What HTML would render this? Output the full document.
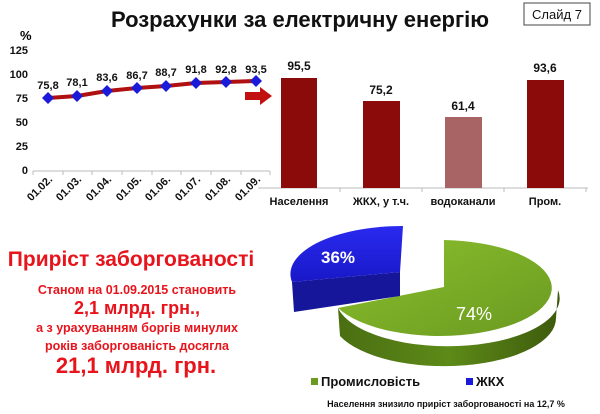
<!DOCTYPE html>
<html><head><meta charset="utf-8"><style>
html,body{margin:0;padding:0;background:#fff;}
svg{display:block;font-family:"Liberation Sans",Arial,sans-serif;}
</style></head><body>
<svg width="600" height="414" viewBox="0 0 600 414">
<defs>
<linearGradient id="gs" x1="0" y1="0" x2="1" y2="0"><stop offset="0" stop-color="#4a6e12"/><stop offset="0.5" stop-color="#5d8a18"/><stop offset="1" stop-color="#3d5a0c"/></linearGradient>
<linearGradient id="gt" x1="0" y1="0" x2="1" y2="1"><stop offset="0" stop-color="#8bbf2e"/><stop offset="1" stop-color="#6a9a20"/></linearGradient>
<linearGradient id="bt" x1="0" y1="0" x2="0" y2="1"><stop offset="0" stop-color="#2a2af0"/><stop offset="1" stop-color="#1818c8"/></linearGradient>
</defs>
<text x="300" y="27" text-anchor="middle" font-size="22" font-weight="bold" fill="#111">Розрахунки за електричну енергію</text>
<rect x="524" y="3" width="66" height="22" fill="#fff" stroke="#444" stroke-width="1"/>
<text x="557" y="19" text-anchor="middle" font-size="13" fill="#111">Слайд 7</text>

<!-- line chart -->
<text x="20" y="40" font-size="13" font-weight="bold">%</text>
<g font-size="11" font-weight="bold" text-anchor="end" fill="#111">
<text x="28" y="54">125</text><text x="28" y="78">100</text><text x="28" y="102">75</text><text x="28" y="126">50</text><text x="28" y="150">25</text><text x="28" y="174">0</text>
</g>
<line x1="33" y1="171" x2="270" y2="171" stroke="#bbb"/>
<g stroke="#bbb"><line x1="33" y1="171" x2="33" y2="175"/><line x1="63" y1="171" x2="63" y2="175"/><line x1="92" y1="171" x2="92" y2="175"/><line x1="122" y1="171" x2="122" y2="175"/><line x1="152" y1="171" x2="152" y2="175"/><line x1="181" y1="171" x2="181" y2="175"/><line x1="211" y1="171" x2="211" y2="175"/><line x1="241" y1="171" x2="241" y2="175"/><line x1="270" y1="171" x2="270" y2="175"/></g>
<polyline points="48,98 77,96 107,91 137,88 166,86 196,83 226,82 256,81" fill="none" stroke="#b01010" stroke-width="4" stroke-linejoin="round"/>
<g fill="#1a1ad8">
<path d="M48,92 54,98 48,104 42,98Z"/><path d="M77,90 83,96 77,102 71,96Z"/><path d="M107,85 113,91 107,97 101,91Z"/><path d="M137,82 143,88 137,94 131,88Z"/><path d="M166,80 172,86 166,92 160,86Z"/><path d="M196,77 202,83 196,89 190,83Z"/><path d="M226,76 232,82 226,88 220,82Z"/><path d="M256,75 262,81 256,87 250,81Z"/>
</g>
<g font-size="11" font-weight="bold" text-anchor="middle" fill="#111">
<text x="48" y="89">75,8</text><text x="77" y="86">78,1</text><text x="107" y="81">83,6</text><text x="137" y="79">86,7</text><text x="166" y="76">88,7</text><text x="196" y="73">91,8</text><text x="226" y="73">92,8</text><text x="256" y="73">93,5</text>
</g>
<g font-size="11" font-weight="bold" fill="#111">
<text transform="translate(53,180) rotate(-45)" text-anchor="end">01.02.</text>
<text transform="translate(82,180) rotate(-45)" text-anchor="end">01.03.</text>
<text transform="translate(112,180) rotate(-45)" text-anchor="end">01.04.</text>
<text transform="translate(142,180) rotate(-45)" text-anchor="end">01.05.</text>
<text transform="translate(171,180) rotate(-45)" text-anchor="end">01.06.</text>
<text transform="translate(201,180) rotate(-45)" text-anchor="end">01.07.</text>
<text transform="translate(231,180) rotate(-45)" text-anchor="end">01.08.</text>
<text transform="translate(261,180) rotate(-45)" text-anchor="end">01.09.</text>
</g>
<path d="M245,92 L260,92 L260,87 L272,96 L260,105 L260,100 L245,100Z" fill="#c01010"/>

<!-- bar chart -->
<line x1="258" y1="188" x2="588" y2="188" stroke="#bbb"/>
<g stroke="#bbb"><line x1="340" y1="188" x2="340" y2="192"/><line x1="422" y1="188" x2="422" y2="192"/><line x1="504" y1="188" x2="504" y2="192"/><line x1="586" y1="188" x2="586" y2="192"/></g>
<rect x="281" y="78" width="36" height="110" fill="#8b0a0a"/>
<rect x="363" y="101" width="37" height="87" fill="#8b0a0a"/>
<rect x="445" y="117" width="37" height="71" fill="#a86464"/>
<rect x="527" y="80" width="37" height="108" fill="#8b0a0a"/>
<g font-size="12" font-weight="bold" text-anchor="middle" fill="#111">
<text x="299" y="70">95,5</text><text x="381" y="94">75,2</text><text x="463" y="110">61,4</text><text x="545" y="72">93,6</text>
</g>
<g font-size="11" font-weight="bold" text-anchor="middle" fill="#111">
<text x="299" y="205">Населення</text><text x="381" y="205">ЖКХ, у т.ч.</text><text x="463" y="205">водоканали</text><text x="545" y="205">Пром.</text>
</g>

<!-- left text -->
<g fill="#e8141c" font-weight="bold" text-anchor="middle">
<text x="131" y="266" font-size="21">Приріст заборгованості</text>
<text x="137" y="294" font-size="12.5">Станом на 01.09.2015 становить</text>
<text x="137" y="314" font-size="18">2,1 млрд. грн.,</text>
<text x="137" y="332" font-size="12.5">а з урахуванням боргів минулих</text>
<text x="137" y="350" font-size="12.5">років заборгованість досягла</text>
<text x="136" y="373" font-size="22">21,1 млрд. грн.</text>
</g>

<!-- pie -->
<path d="M338,308 A112,48 0 0 0 558,290 L556,318 A112,48 0 0 1 340,336 Z" fill="url(#gs)"/>
<path d="M444,287 L444,240 A112,48 0 1 1 338,308 Z" fill="url(#gt)"/>
<path d="M292,282 L400,272 L400,296 L294,312 Z" fill="#16169a"/>
<path d="M400,272 L403,226 A112,48 0 0 0 292,282 Z" fill="url(#bt)"/>
<text x="338" y="263" text-anchor="middle" font-size="17" font-weight="bold" fill="#fff">36%</text>
<text x="474" y="320" text-anchor="middle" font-size="18" fill="#fff">74%</text>
<rect x="311" y="378" width="7" height="7" fill="#6a9a20"/>
<text x="321" y="386" font-size="13" font-weight="bold" fill="#111">Промисловість</text>
<rect x="466" y="378" width="7" height="7" fill="#1a1ad8"/>
<text x="476" y="386" font-size="13" font-weight="bold" fill="#111">ЖКХ</text>
<text x="446" y="407" text-anchor="middle" font-size="9" font-weight="bold" fill="#111">Населення знизило приріст заборгованості на 12,7 %</text>
</svg>
</body></html>
